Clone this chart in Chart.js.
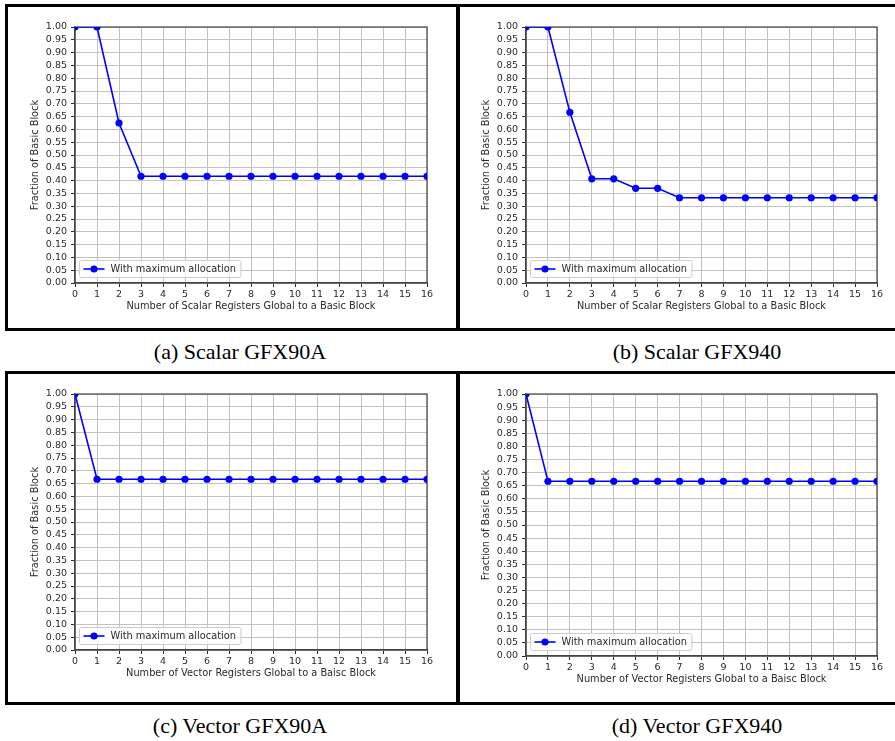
<!DOCTYPE html>
<html>
<head>
<meta charset="utf-8">
<script src="https://cdn.jsdelivr.net/npm/chart.js@4.4.1/dist/chart.umd.min.js"></script>
<style>
  body { margin: 0; width: 895px; height: 741px; overflow: hidden; background: #fff; position: relative; }
  .row { position: absolute; border: 3px solid #000; box-sizing: border-box; }
  .divider { position: absolute; background: #000; width: 4px; }
  canvas { position: absolute; }
  .caption {
    position: absolute; font-family: "Liberation Serif", "Times New Roman", serif;
    font-size: 22px; line-height: 22px; color: #000; white-space: nowrap; transform: translateX(-50%);
  }
</style>
</head>
<body>
<div class="row" style="left:5px;top:4px;width:1000px;height:327px"></div>
<div class="divider" style="left:456px;top:4px;height:327px"></div>
<div class="row" style="left:5px;top:371px;width:1000px;height:334px"></div>
<div class="divider" style="left:456px;top:371px;height:334px"></div>

<canvas id="scalar90a" width="442" height="316" style="left:5px;top:7px"></canvas>
<canvas id="scalar940" width="441" height="316" style="left:456px;top:7px"></canvas>
<canvas id="vector90a" width="442" height="316" style="left:5px;top:374px"></canvas>
<canvas id="vector940" width="441" height="322" style="left:456px;top:374px"></canvas>

<div class="caption" style="left:240px;top:341px">(a) Scalar GFX90A</div>
<div class="caption" style="left:697px;top:341px">(b) Scalar GFX940</div>
<div class="caption" style="left:240px;top:715px">(c) Vector GFX90A</div>
<div class="caption" style="left:697px;top:715px">(d) Vector GFX940</div>

<script>
/* =========================================================
   DATA
========================================================= */
const xTicks = [0, 1, 2, 3, 4, 5, 6, 7, 8, 9, 10, 11, 12, 13, 14, 15, 16];
const yTicks = [0, 0.05, 0.1, 0.15, 0.2, 0.25, 0.3, 0.35, 0.4, 0.45, 0.5,
                0.55, 0.6, 0.65, 0.7, 0.75, 0.8, 0.85, 0.9, 0.95, 1.0];

const scalarGfx90a = [1.0, 1.0, 0.625, 0.417, 0.417, 0.417, 0.417, 0.417, 0.417,
                      0.417, 0.417, 0.417, 0.417, 0.417, 0.417, 0.417, 0.417];
const scalarGfx940 = [1.0, 1.0, 0.667, 0.407, 0.407, 0.370, 0.370, 0.333, 0.333,
                      0.333, 0.333, 0.333, 0.333, 0.333, 0.333, 0.333, 0.333];
const vectorGfx90a = [1.0, 0.667, 0.667, 0.667, 0.667, 0.667, 0.667, 0.667, 0.667,
                      0.667, 0.667, 0.667, 0.667, 0.667, 0.667, 0.667, 0.667];
const vectorGfx940 = [1.0, 0.667, 0.667, 0.667, 0.667, 0.667, 0.667, 0.667, 0.667,
                      0.667, 0.667, 0.667, 0.667, 0.667, 0.667, 0.667, 0.667];

const seriesLabel = "With maximum allocation";
const yTitle = "Fraction of Basic Block";
const scalarTitle = "Number of Scalar Registers Global to a Basic Block";
const vectorTitle = "Number of Vector Registers Global to a Baisc Block";

/* =========================================================
   STYLE
========================================================= */
const BLUE = "#0000ff";
const INK = "#2a2a2a";
const GRID = "#c2c2c2";
const FONT = "DejaVu Sans";

/* =========================================================
   PLUGINS
========================================================= */
// full box around the axes, like matplotlib spines
const framePlugin = {
  id: "frame",
  beforeDatasetsDraw(chart) {
    const { ctx, chartArea: a } = chart;
    ctx.save();
    ctx.strokeStyle = "#444";
    ctx.lineWidth = 1.2;
    ctx.strokeRect(a.left, a.top, a.right - a.left, a.bottom - a.top);
    ctx.restore();
  }
};

// legend box in the lower left corner of the plot
const boxLegend = {
  id: "boxLegend",
  afterDraw(chart) {
    const { ctx, chartArea: a } = chart;
    const ds = chart.data.datasets[0];
    ctx.save();
    ctx.font = `9.8px "${FONT}"`;
    const tw = ctx.measureText(ds.label).width;
    const x = a.left + 4.5, y = a.bottom - 22.5, w = 36 + tw, h = 17;

    ctx.beginPath();
    ctx.roundRect(x, y, w, h, 2);
    ctx.fillStyle = "rgba(255,255,255,0.8)";
    ctx.fill();
    ctx.strokeStyle = "#cccccc";
    ctx.lineWidth = 1;
    ctx.stroke();

    const cy = y + h / 2;
    ctx.beginPath();
    ctx.moveTo(x + 4, cy);
    ctx.lineTo(x + 25, cy);
    ctx.strokeStyle = ds.borderColor;
    ctx.lineWidth = ds.borderWidth;
    ctx.stroke();
    ctx.beginPath();
    ctx.arc(x + 14.5, cy, ds.pointRadius, 0, Math.PI * 2);
    ctx.fillStyle = ds.backgroundColor;
    ctx.fill();

    ctx.fillStyle = INK;
    ctx.textBaseline = "middle";
    ctx.fillText(ds.label, x + 31, cy + 0.5);
    ctx.restore();
  }
};

/* =========================================================
   CHART BUILDER
========================================================= */
function makeChart(id, values, xTitle) {
  const titleFont = { family: FONT, size: 9.8 };
  const tickFont = { family: FONT, size: 9.5 };

  return new Chart(document.getElementById(id), {
    type: "line",
    data: {
      datasets: [{
        label: seriesLabel,
        data: xTicks.map((x, i) => ({ x, y: values[i] })),
        borderColor: BLUE,
        backgroundColor: BLUE,
        borderWidth: 1.6,
        pointRadius: 3.6,
        pointBorderWidth: 0,
        pointHoverRadius: 3.6,
        tension: 0,
        clip: 0
      }]
    },
    options: {
      responsive: false,
      animation: false,
      layout: { padding: { left: 24.3, top: 20, right: 20, bottom: 10.8 } },
      plugins: { legend: { display: false }, tooltip: { enabled: false } },
      scales: {
        x: {
          type: "linear",
          min: 0,
          max: 16,
          afterBuildTicks: s => { s.ticks = xTicks.map(v => ({ value: v })); },
          afterFit: s => { s.height = 29.2; s.paddingLeft = 0; s.paddingRight = 0; },
          ticks: {
            autoSkip: false, maxRotation: 0, padding: 2,
            font: tickFont, color: INK,
            callback: v => String(v)
          },
          grid: { color: GRID, lineWidth: 1, tickColor: INK, tickLength: 4 },
          border: { color: "#444", width: 1.2 },
          title: { display: true, text: xTitle, font: titleFont, color: INK, padding: 0 }
        },
        y: {
          min: 0,
          max: 1,
          afterBuildTicks: s => { s.ticks = yTicks.map(v => ({ value: v })); },
          afterFit: s => { s.width = 45.7; s.paddingTop = 0; s.paddingBottom = 0; },
          ticks: {
            autoSkip: false, padding: 4,
            font: tickFont, color: INK,
            callback: v => v.toFixed(2)
          },
          grid: { color: GRID, lineWidth: 1, tickColor: INK, tickLength: 4 },
          border: { color: "#444", width: 1.2 },
          title: { display: true, text: yTitle, font: titleFont, color: INK, padding: 0 }
        }
      }
    },
    plugins: [framePlugin, boxLegend]
  });
}

makeChart("scalar90a", scalarGfx90a, scalarTitle);
makeChart("scalar940", scalarGfx940, scalarTitle);
makeChart("vector90a", vectorGfx90a, vectorTitle);
makeChart("vector940", vectorGfx940, vectorTitle);
</script>
</body>
</html>
